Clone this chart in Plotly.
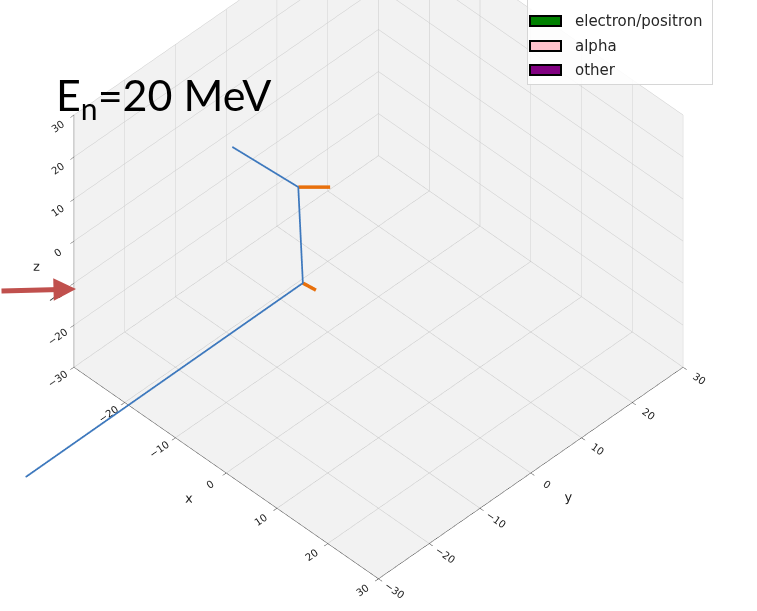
import plotly.graph_objects as go
import math

# ---- data ----
neutron_x = [-1.3, -1.5, -2.0, -15.0]
neutron_y = [-68.2, -13.4, -13.8, -13.8]
neutron_z = [0.0, 0.0, 22.75, 21.4]

recoil_x = [-2.0, 1.15, None, -1.5, 1.08]
recoil_y = [-13.8, -10.68, None, -13.4, -13.4]
recoil_z = [22.75, 22.75, None, 0.0, 0.48]

tick_vals = [-30, -20, -10, 0, 10, 20, 30]
legend_names = ["electron/positron", "alpha", "other"]
legend_colors = ["#008000", "#ffc0cb", "#800080"]

W, H = 757, 611

fig = go.Figure()
# recoil tracks inside the axes box
fig.add_trace(go.Scatter3d(x=recoil_x, y=recoil_y, z=recoil_z, mode="lines",
                           line=dict(color="#e8700c", width=7), showlegend=False, scene="scene"))
# neutron track (extends outside the box, drawn in an overlay scene with same scaling)
fig.add_trace(go.Scatter3d(x=neutron_x, y=neutron_y, z=neutron_z, mode="lines",
                           line=dict(color="#3d78bd", width=3.5), showlegend=False, scene="scene2"))

ax_common = dict(range=[-30, 30], tickvals=tick_vals, showbackground=True,
                 backgroundcolor="#f2f2f2", gridcolor="#c8c8c8", gridwidth=1,
                 showline=True, linecolor="#444444", linewidth=1,
                 ticks="outside", ticklen=5, tickcolor="#444444",
                 zeroline=False, showspikes=False,
                 tickfont=dict(family="DejaVu Sans", size=11, color="#222222"),
                 title_font=dict(family="DejaVu Sans", size=13, color="#222222"))

a = math.radians(-45)
e = math.radians(44)
r = 1.35
cz = -0.293
eye = dict(x=r*math.cos(e)*math.cos(a), y=r*math.cos(e)*math.sin(a), z=cz + r*math.sin(e))
camera = dict(eye=eye, center=dict(x=0, y=0, z=cz), up=dict(x=0, y=0, z=1),
              projection=dict(type="orthographic"))
K = 1.41   # overall zoom (orthographic zoom is set through the aspect ratio)
ZA = 0.814

hidden = dict(visible=False, showspikes=False)
fig.update_layout(
    width=W, height=H, margin=dict(l=0, r=0, t=0, b=0),
    paper_bgcolor="white",
    scene=dict(
        domain=dict(x=[0, 1], y=[0, 1]),
        xaxis=dict(title_text="x", **ax_common),
        yaxis=dict(title_text="y", **ax_common),
        zaxis=dict(title_text="z", **ax_common),
        aspectmode="manual", aspectratio=dict(x=K, y=K, z=K*ZA),
        camera=camera,
    ),
    scene2=dict(
        domain=dict(x=[0, 1], y=[0, 1]),
        bgcolor="rgba(0,0,0,0)",
        xaxis=dict(range=[-30, 30], **hidden),
        yaxis=dict(range=[-90, 90], **hidden),
        zaxis=dict(range=[-30, 30], **hidden),
        aspectmode="manual", aspectratio=dict(x=K, y=3*K, z=K*ZA),
        camera=camera,
    ),
)

annotations = []
# legend frame
annotations.append(dict(xref="paper", yref="paper", x=527/W, y=1-85/H, xanchor="left", yanchor="bottom",
                        text="", showarrow=False, width=182, height=110,
                        bgcolor="rgba(255,255,255,0.85)", bordercolor="#d6d6d6", borderwidth=1))
ys = [21, 46, 70]
for name, col, yy in zip(legend_names, legend_colors, ys):
    annotations.append(dict(xref="paper", yref="paper", x=529/W, y=1-(yy-6)/H, xanchor="left", yanchor="top",
                            text="", showarrow=False, width=29, height=8, bgcolor=col,
                            bordercolor="black", borderwidth=2, borderpad=0))
    annotations.append(dict(xref="paper", yref="paper", x=573/W, y=1-yy/H, xanchor="left", yanchor="middle",
                            text=name, showarrow=False,
                            font=dict(family="DejaVu Sans", size=15, color="#262626")))
# energy label
annotations.append(dict(xref="paper", yref="paper", x=54/W, y=1-97/H, xanchor="left", yanchor="middle",
                        text="E<sub>n</sub>=20 MeV", showarrow=False,
                        font=dict(family="Lato", size=43, color="black")))
# incoming arrow
annotations.append(dict(xref="paper", yref="paper", x=76/W, y=1-289/H, ax=-80, ay=2,
                        text="", showarrow=True, arrowhead=2, arrowsize=0.9, arrowwidth=5,
                        arrowcolor="#c0504d"))
fig.update_layout(annotations=annotations)

fig.write_html("out.html", config={"displayModeBar": False},
               post_script="document.body.style.margin='0';")
